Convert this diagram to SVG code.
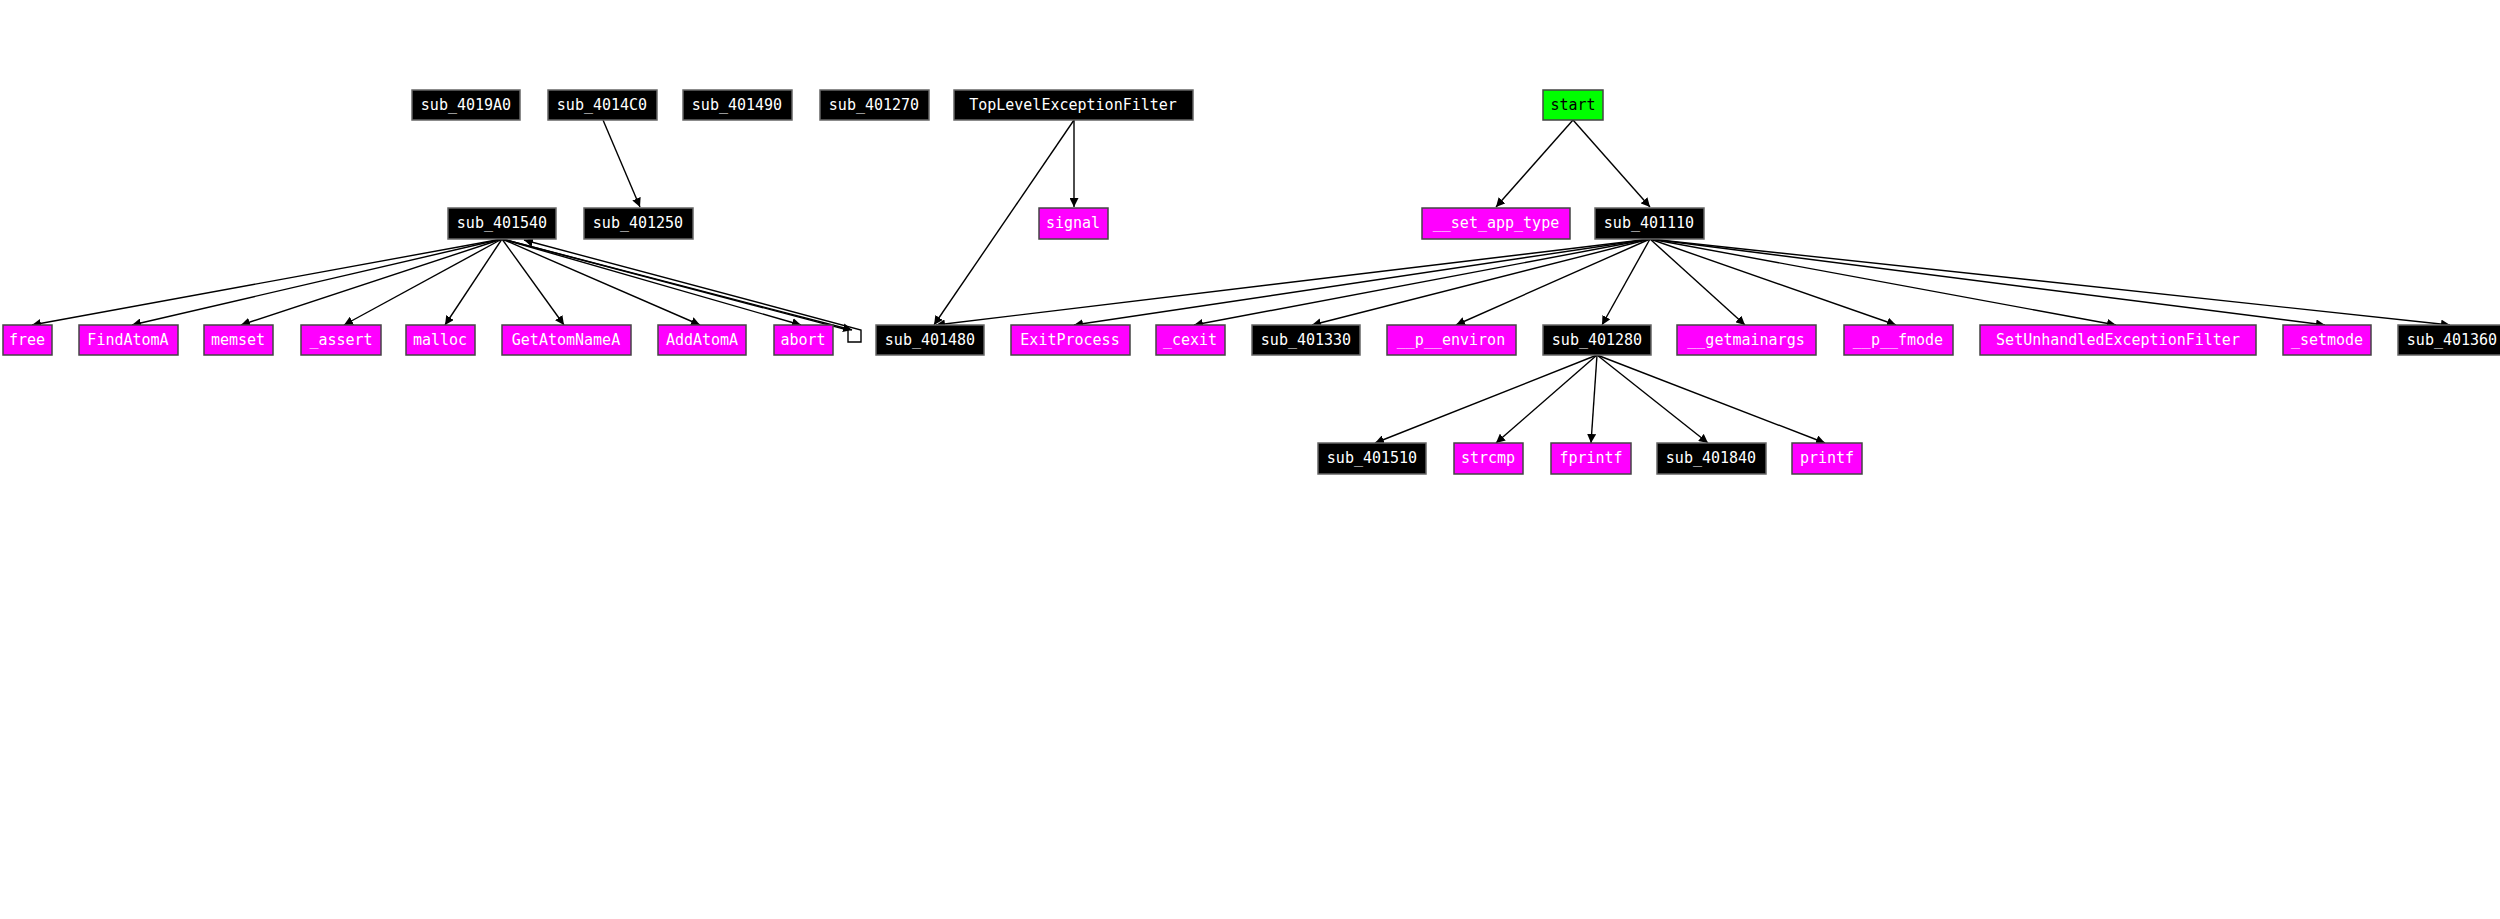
<svg xmlns="http://www.w3.org/2000/svg" width="2500" height="919" viewBox="0 0 2500 919">
<style>
.b rect{fill:#000;stroke:#666;stroke-width:1.5}
.m rect{fill:#ff00ff;stroke:#444;stroke-width:1.5}
.g rect{fill:#00ff00;stroke:#444;stroke-width:1.5}
text{font-family:"DejaVu Sans Mono","Liberation Mono",monospace;font-size:15px;text-anchor:middle;fill:#fff}
.g text{fill:#000}
#edges path{fill:none;stroke:#000;stroke-width:1.4;marker-end:url(#a)}
</style>
<defs><marker id="a" viewBox="0 0 10 10" refX="10" refY="5" markerWidth="9" markerHeight="9" markerUnits="userSpaceOnUse" orient="auto"><path d="M0,0L10,5L0,10z" fill="#000"/></marker></defs>
<rect width="2500" height="919" fill="#fff"/>
<g id="edges">
<path d="M603,120L640,207"/>
<path d="M1074,120L1074,207"/>
<path d="M1074,120L934,325"/>
<path d="M1573,120L1496,207"/>
<path d="M1573,120L1650,207"/>
<path d="M502,239L32,325"/><path d="M502,239L132,325"/><path d="M502,239L241,325"/><path d="M502,239L344,325"/>
<path d="M502,239L445,325"/><path d="M502,239L564,325"/><path d="M502,239L700,325"/><path d="M502,239L801,325"/>
<path d="M502,239L848,330L848,342L861,342L861,330L524,240"/>
<path d="M502,239L852,330"/>
<path d="M1650,239L936,325"/><path d="M1650,239L1074,325"/><path d="M1650,239L1194,325"/><path d="M1650,239L1312,325"/>
<path d="M1650,239L1456,325"/><path d="M1650,239L1602,325"/><path d="M1650,239L1745,325"/><path d="M1650,239L1896,325"/>
<path d="M1650,239L2116,325"/><path d="M1650,239L2325,325"/><path d="M1650,239L2450,325"/>
<path d="M1597,355L1375,443"/><path d="M1597,355L1496,443"/><path d="M1597,355L1591,443"/><path d="M1597,355L1708,443"/><path d="M1597,355L1825,443"/>
</g>
<g id="sub_4019A0" class="b"><rect x="412" y="90" width="108" height="30"/><text x="466" y="110">sub_4019A0</text></g>
<g id="sub_4014C0" class="b"><rect x="548" y="90" width="109" height="30"/><text x="602" y="110">sub_4014C0</text></g>
<g id="sub_401490" class="b"><rect x="683" y="90" width="109" height="30"/><text x="737" y="110">sub_401490</text></g>
<g id="sub_401270" class="b"><rect x="820" y="90" width="109" height="30"/><text x="874" y="110">sub_401270</text></g>
<g id="TopLevelExceptionFilter" class="b"><rect x="954" y="90" width="239" height="30"/><text x="1073" y="110">TopLevelExceptionFilter</text></g>
<g id="start" class="g"><rect x="1543" y="90" width="60" height="30"/><text x="1573" y="110">start</text></g>
<g id="sub_401540" class="b"><rect x="448" y="208" width="108" height="31"/><text x="502" y="228">sub_401540</text></g>
<g id="sub_401250" class="b"><rect x="584" y="208" width="109" height="31"/><text x="638" y="228">sub_401250</text></g>
<g id="signal" class="m"><rect x="1039" y="208" width="69" height="31"/><text x="1073" y="228">signal</text></g>
<g id="__set_app_type" class="m"><rect x="1422" y="208" width="148" height="31"/><text x="1496" y="228">__set_app_type</text></g>
<g id="sub_401110" class="b"><rect x="1595" y="208" width="109" height="31"/><text x="1649" y="228">sub_401110</text></g>
<g id="free" class="m"><rect x="3" y="325" width="49" height="30"/><text x="27" y="345">free</text></g>
<g id="FindAtomA" class="m"><rect x="79" y="325" width="99" height="30"/><text x="128" y="345">FindAtomA</text></g>
<g id="memset" class="m"><rect x="204" y="325" width="69" height="30"/><text x="238" y="345">memset</text></g>
<g id="_assert" class="m"><rect x="301" y="325" width="80" height="30"/><text x="341" y="345">_assert</text></g>
<g id="malloc" class="m"><rect x="406" y="325" width="69" height="30"/><text x="440" y="345">malloc</text></g>
<g id="GetAtomNameA" class="m"><rect x="502" y="325" width="129" height="30"/><text x="566" y="345">GetAtomNameA</text></g>
<g id="AddAtomA" class="m"><rect x="658" y="325" width="88" height="30"/><text x="702" y="345">AddAtomA</text></g>
<g id="abort" class="m"><rect x="774" y="325" width="59" height="30"/><text x="803" y="345">abort</text></g>
<g id="sub_401480" class="b"><rect x="876" y="325" width="108" height="30"/><text x="930" y="345">sub_401480</text></g>
<g id="ExitProcess" class="m"><rect x="1011" y="325" width="119" height="30"/><text x="1070" y="345">ExitProcess</text></g>
<g id="_cexit" class="m"><rect x="1156" y="325" width="69" height="30"/><text x="1190" y="345">_cexit</text></g>
<g id="sub_401330" class="b"><rect x="1252" y="325" width="108" height="30"/><text x="1306" y="345">sub_401330</text></g>
<g id="__p__environ" class="m"><rect x="1387" y="325" width="129" height="30"/><text x="1451" y="345">__p__environ</text></g>
<g id="sub_401280" class="b"><rect x="1543" y="325" width="108" height="30"/><text x="1597" y="345">sub_401280</text></g>
<g id="__getmainargs" class="m"><rect x="1677" y="325" width="139" height="30"/><text x="1746" y="345">__getmainargs</text></g>
<g id="__p__fmode" class="m"><rect x="1844" y="325" width="109" height="30"/><text x="1898" y="345">__p__fmode</text></g>
<g id="SetUnhandledExceptionFilter" class="m"><rect x="1980" y="325" width="276" height="30"/><text x="2118" y="345">SetUnhandledExceptionFilter</text></g>
<g id="_setmode" class="m"><rect x="2283" y="325" width="88" height="30"/><text x="2327" y="345">_setmode</text></g>
<g id="sub_401360" class="b"><rect x="2398" y="325" width="108" height="30"/><text x="2452" y="345">sub_401360</text></g>
<g id="sub_401510" class="b"><rect x="1318" y="443" width="108" height="31"/><text x="1372" y="463">sub_401510</text></g>
<g id="strcmp" class="m"><rect x="1454" y="443" width="69" height="31"/><text x="1488" y="463">strcmp</text></g>
<g id="fprintf" class="m"><rect x="1551" y="443" width="80" height="31"/><text x="1591" y="463">fprintf</text></g>
<g id="sub_401840" class="b"><rect x="1657" y="443" width="109" height="31"/><text x="1711" y="463">sub_401840</text></g>
<g id="printf" class="m"><rect x="1792" y="443" width="70" height="31"/><text x="1827" y="463">printf</text></g>
</svg>
